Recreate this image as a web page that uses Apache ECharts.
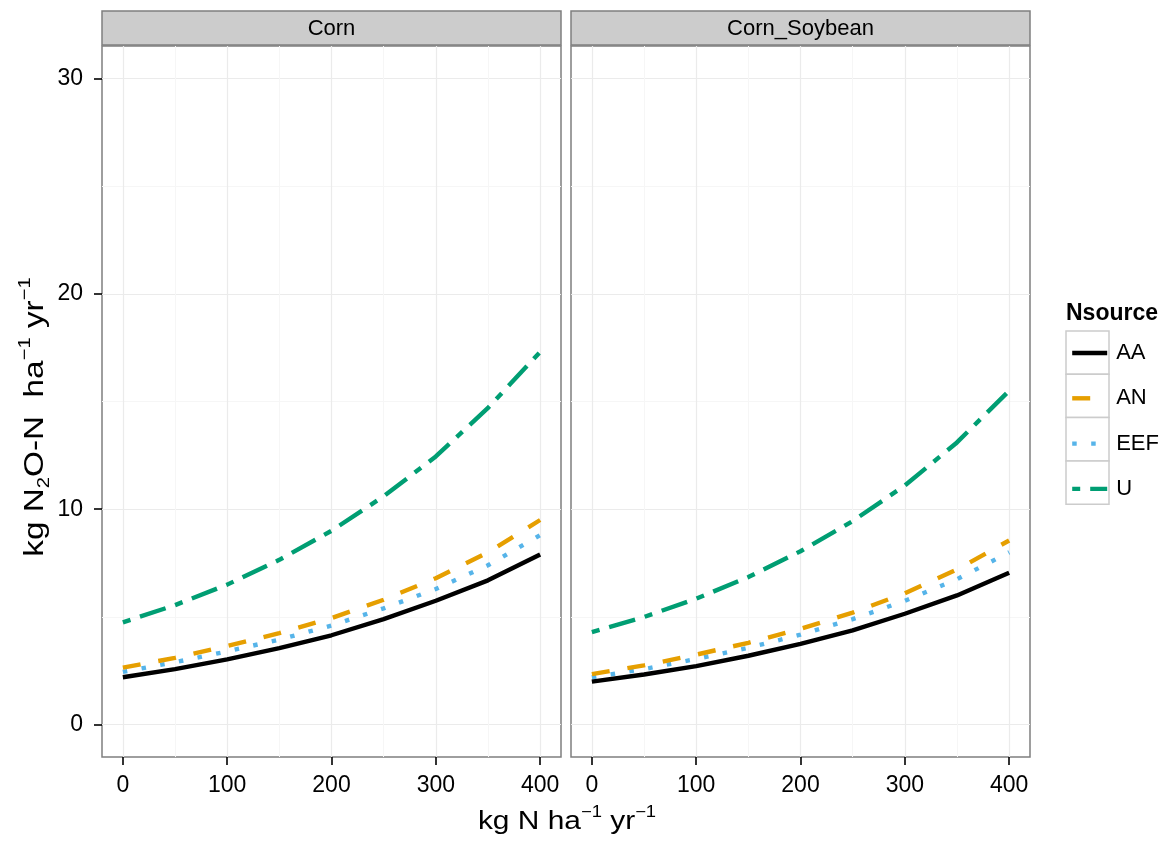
<!DOCTYPE html>
<html>
<head>
<meta charset="utf-8">
<title>N2O-N emissions by N rate</title>
<script src="https://cdn.jsdelivr.net/npm/echarts@6/dist/echarts.min.js"></script>
<style>
  html, body { margin: 0; padding: 0; background: #ffffff; }
  #chart { width: 1166px; height: 844px; }
</style>
</head>
<body>
<div id="chart"></div>
<script>
// N rate (kg N/ha/yr) at which each curve is evaluated
const nRate = [0, 50, 100, 150, 200, 250, 300, 350, 400];

// Panel names (rotation system)
const panels = ['Corn', 'Corn_Soybean'];

// N source names
const sources = ['AA', 'AN', 'EEF', 'U'];

// Predicted N2O-N (kg N2O-N/ha/yr), Corn
const cornAA  = [2.2, 2.58, 3.03, 3.55, 4.15, 4.9, 5.75, 6.7, 7.9];
const cornAN  = [2.65, 3.1, 3.65, 4.25, 4.95, 5.8, 6.8, 8.0, 9.5];
const cornEEF = [2.45, 2.9, 3.4, 3.95, 4.6, 5.4, 6.3, 7.4, 8.8];
const cornU   = [4.75, 5.55, 6.5, 7.65, 9.0, 10.6, 12.45, 14.7, 17.3];

// Predicted N2O-N (kg N2O-N/ha/yr), Corn_Soybean
const csAA  = [2.0, 2.33, 2.72, 3.2, 3.75, 4.38, 5.15, 6.0, 7.05];
const csAN  = [2.35, 2.75, 3.25, 3.8, 4.45, 5.2, 6.1, 7.2, 8.55];
const csEEF = [2.2, 2.58, 3.05, 3.57, 4.18, 4.9, 5.75, 6.75, 8.0];
const csU   = [4.3, 5.0, 5.85, 6.85, 8.05, 9.45, 11.1, 13.1, 15.5];

// Axis tick labels
const xTicks = [0, 100, 200, 300, 400];
const yTicks = [0, 10, 20, 30];

const panelData = [
  [cornAA, cornAN, cornEEF, cornU],
  [csAA, csAN, csEEF, csU]
];

const FONT = '"Liberation Sans", Arial, Helvetica, sans-serif';

const lineStyles = {
  AA:  { color: '#000000', type: 'solid' },
  AN:  { color: '#E69F00', type: [18, 18] },
  EEF: { color: '#56B4E9', type: [4.5, 14.5] },
  U:   { color: '#009E73', type: [8, 10, 27, 10] }
};

const grids = [
  { left: 102, top: 46, width: 459, height: 711 },
  { left: 571, top: 46, width: 459, height: 711 }
];

const zip = (xs, ys) => xs.map((x, i) => [x, ys[i]]);

const xAxes = grids.map((g, i) => ({
  type: 'value',
  gridIndex: i,
  min: -20,
  max: 420,
  splitNumber: 5,
  axisLine: { show: false, onZero: false },
  axisTick: {
    show: true, inside: false, length: 8, customValues: xTicks,
    lineStyle: { color: '#000000', width: 1.6 }
  },
  axisLabel: {
    customValues: xTicks, margin: 17,
    color: '#000000', fontSize: 23, fontFamily: FONT
  },
  splitLine: { show: true, lineStyle: { color: '#ebebeb', width: 1.2 } },
  minorTick: { show: false, splitNumber: 2 },
  minorSplitLine: { show: true, lineStyle: { color: '#f6f6f6', width: 1 } }
}));

const yAxes = grids.map((g, i) => ({
  type: 'value',
  gridIndex: i,
  min: -1.5,
  max: 31.5,
  splitNumber: 4,
  axisLine: { show: false, onZero: false },
  axisTick: {
    show: i === 0, inside: false, length: 8, customValues: yTicks,
    lineStyle: { color: '#000000', width: 1.6 }
  },
  axisLabel: {
    show: i === 0, customValues: yTicks, margin: 19,
    color: '#000000', fontSize: 23, fontFamily: FONT
  },
  splitLine: { show: true, lineStyle: { color: '#ebebeb', width: 1.2 } },
  minorTick: { show: false, splitNumber: 2 },
  minorSplitLine: { show: true, lineStyle: { color: '#f6f6f6', width: 1 } }
}));

const series = [];
panels.forEach((p, pi) => {
  sources.forEach((s, si) => {
    series.push({
      name: s,
      type: 'line',
      xAxisIndex: pi,
      yAxisIndex: pi,
      data: zip(nRate, panelData[pi][si]),
      symbol: 'none',
      showSymbol: false,
      smooth: false,
      lineStyle: { color: lineStyles[s].color, type: lineStyles[s].type, width: 4.4, cap: 'butt' },
      itemStyle: { color: lineStyles[s].color },
      emphasis: { disabled: true },
      z: 3 + (3 - si)
    });
  });
});

// Facet strips
const strips = [];
grids.forEach((g, i) => {
  strips.push({
    type: 'rect',
    shape: { x: g.left, y: 11, width: g.width, height: 34 },
    style: { fill: '#cccccc', stroke: '#7f7f7f', lineWidth: 1.5 },
    z: 10
  });
  strips.push({
    type: 'text',
    x: g.left + g.width / 2,
    y: 29,
    style: {
      text: panels[i], fill: '#000000', fontSize: 22, fontFamily: FONT,
      textAlign: 'center', textVerticalAlign: 'middle'
    },
    z: 11
  });
});

// Legend key boxes
const keyBoxes = sources.map((s, i) => ({
  type: 'rect',
  shape: { x: 1066, y: 331 + i * 43.3, width: 43, height: 43.3 },
  style: { fill: '#ffffff', stroke: '#cccccc', lineWidth: 1.5 },
  z: 1
}));

const xTitleRich = {
  a: { fontSize: 26, fontFamily: FONT, color: '#000000', lineHeight: 34, verticalAlign: 'middle' },
  sup: { fontSize: 16, fontFamily: FONT, color: '#000000', lineHeight: 34, verticalAlign: 'top' }
};

const yTitleRich = {
  a: { fontSize: 28, fontFamily: FONT, color: '#000000', lineHeight: 36, verticalAlign: 'middle' },
  sup: { fontSize: 17, fontFamily: FONT, color: '#000000', lineHeight: 36, verticalAlign: 'top' },
  sub: { fontSize: 17, fontFamily: FONT, color: '#000000', lineHeight: 36, verticalAlign: 'bottom' }
};

const chart = echarts.init(document.getElementById('chart'), null, { renderer: 'canvas' });

chart.setOption({
  animation: false,
  backgroundColor: '#ffffff',
  grid: grids.map(g => Object.assign({
    show: true, borderColor: '#7f7f7f', borderWidth: 1.5, backgroundColor: 'transparent', containLabel: false
  }, g)),
  xAxis: xAxes,
  yAxis: yAxes,
  legend: {
    data: sources,
    orient: 'vertical',
    left: 1070,
    top: 342,
    padding: 0,
    itemWidth: 35,
    itemHeight: 20,
    itemGap: 23.3,
    selectedMode: false,
    itemStyle: { color: 'transparent', borderWidth: 0, opacity: 0 },
    lineStyle: { width: 4.4 },
    textStyle: { fontSize: 22, lineHeight: 20, fontFamily: FONT, color: '#000000', padding: [0, 0, 0, 4] }
  },
  series: series,
  graphic: [
    ...strips,
    ...keyBoxes,
    {
      type: 'text',
      left: 1066,
      top: 302,
      style: { text: 'Nsource', fontSize: 23, fontWeight: 'bold', fontFamily: FONT, fill: '#000000' }
    },
    {
      type: 'text',
      x: 567,
      y: 822,
      scaleX: 1.15,
      style: {
        text: '{a|kg N ha}{sup|−1}{a| yr}{sup|−1}',
        rich: xTitleRich,
        textAlign: 'center',
        textVerticalAlign: 'middle'
      }
    },
    {
      type: 'text',
      x: 35,
      y: 417,
      rotation: Math.PI / 2,
      scaleX: 1.19,
      style: {
        text: '{a|kg N}{sub|2}{a|O-N  ha}{sup|−1}{a| yr}{sup|−1}',
        rich: yTitleRich,
        textAlign: 'center',
        textVerticalAlign: 'middle'
      }
    }
  ]
});
</script>
</body>
</html>
